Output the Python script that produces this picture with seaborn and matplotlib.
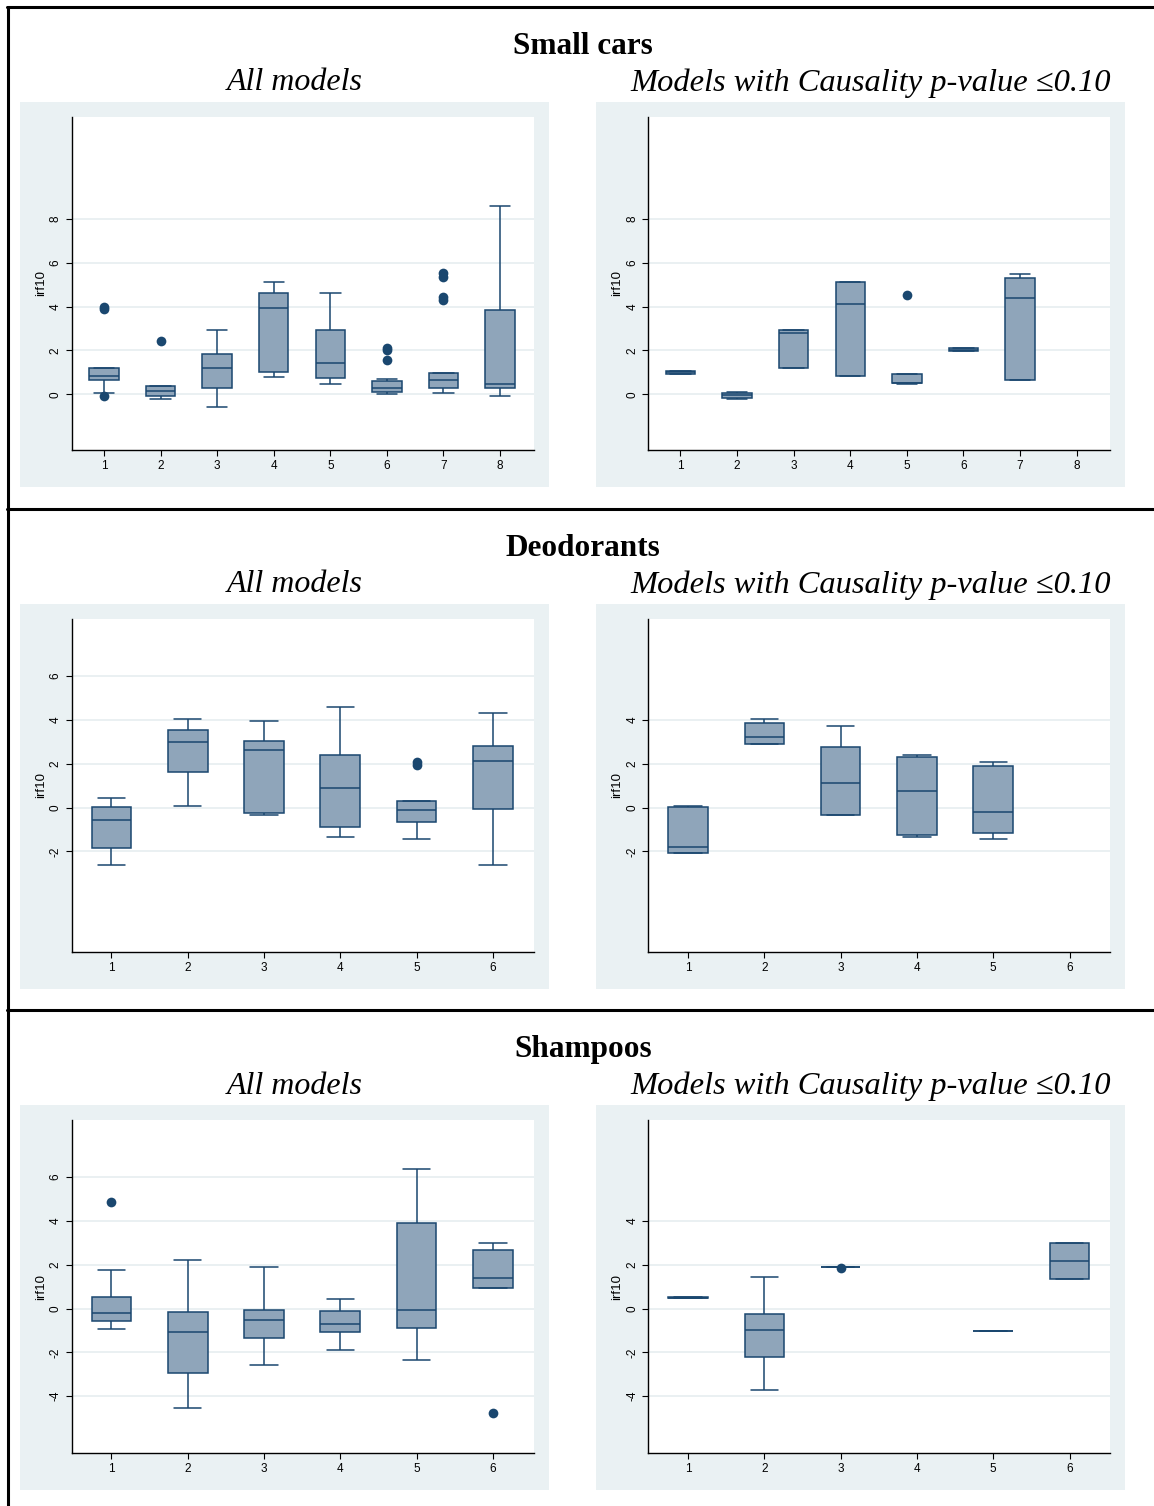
import numpy as np
import pandas as pd
import matplotlib
matplotlib.use("Agg")
import matplotlib.pyplot as plt
from matplotlib.lines import Line2D
from matplotlib.patches import Rectangle
import seaborn as sns

# ---------------- data ----------------
# each box: (lower whisker, q1, median, q3, upper whisker); None = empty group
cars_groups = ["1", "2", "3", "4", "5", "6", "7", "8"]
cars_all_box = [(0.08, 0.65, 0.82, 1.18, 1.20), (-0.20, -0.08, 0.17, 0.39, 0.40),
                (-0.58, 0.30, 1.18, 1.82, 2.91), (0.80, 1.03, 3.92, 4.63, 5.14),
                (0.49, 0.73, 1.41, 2.91, 4.63), (0.02, 0.09, 0.29, 0.59, 0.71),
                (0.06, 0.30, 0.65, 0.96, 0.98), (-0.09, 0.30, 0.46, 3.85, 8.57)]
cars_all_out_grp = ["1", "1", "1", "2", "6", "6", "6", "7", "7", "7", "7"]
cars_all_out_val = [3.90, 3.98, -0.09, 2.44, 2.09, 2.02, 1.55, 5.51, 5.36, 4.45, 4.32]

cars_caus_box = [(0.93, 0.93, 1.00, 1.08, 1.08), (-0.21, -0.15, -0.02, 0.08, 0.10),
                 (1.21, 1.21, 2.78, 2.91, 2.91), (0.82, 0.82, 4.10, 5.10, 5.10),
                 (0.46, 0.50, 0.53, 0.93, 0.93), (1.97, 1.97, 2.03, 2.11, 2.11),
                 (0.67, 0.67, 4.40, 5.31, 5.48), None]
cars_caus_out_grp = ["5"]
cars_caus_out_val = [4.52]

deo_groups = ["1", "2", "3", "4", "5", "6"]
deo_all_box = [(-2.62, -1.85, -0.59, 0.03, 0.44), (0.05, 1.61, 2.98, 3.53, 4.06),
               (-0.32, -0.24, 2.61, 3.03, 3.95), (-1.35, -0.89, 0.91, 2.41, 4.59),
               (-1.44, -0.64, -0.11, 0.30, 0.30), (-2.62, -0.05, 2.12, 2.82, 4.33)]
deo_all_out_grp = ["5", "5"]
deo_all_out_val = [2.08, 1.94]

deo_caus_box = [(-2.09, -2.09, -1.82, 0.03, 0.06), (2.89, 2.89, 3.21, 3.85, 4.06),
                (-0.35, -0.32, 1.12, 2.77, 3.73), (-1.36, -1.27, 0.74, 2.29, 2.41),
                (-1.44, -1.15, -0.20, 1.91, 2.09), None]
deo_caus_out_grp = []
deo_caus_out_val = []

sha_groups = ["1", "2", "3", "4", "5", "6"]
sha_all_box = [(-0.95, -0.55, -0.21, 0.52, 1.77), (-4.56, -2.92, -1.06, -0.17, 2.20),
               (-2.56, -1.36, -0.53, -0.06, 1.88), (-1.91, -1.09, -0.70, -0.11, 0.44),
               (-2.35, -0.89, -0.06, 3.89, 6.38), (0.92, 0.92, 1.39, 2.67, 3.00)]
sha_all_out_grp = ["1", "6"]
sha_all_out_val = [4.88, -4.76]

sha_caus_box = [(0.46, 0.46, 0.50, 0.54, 0.54), (-3.70, -2.20, -0.97, -0.27, 1.44),
                (1.88, 1.88, 1.88, 1.88, 1.88), None,
                (-1.02, -1.02, -1.02, -1.02, -1.02), (1.33, 1.33, 2.18, 2.98, 2.98)]
sha_caus_out_grp = ["3"]
sha_caus_out_val = [1.86]

row_titles = ["Small cars", "Deodorants", "Shampoos"]
col_titles = ["All models", "Models with Causality p-value \u22640.10"]
y_label = "irf10"

# ---------------- style ----------------
W, H = 1154, 1506
DPI = 100
NAVY = "#1A476F"
FILL = "#8FA5BA"
BG = "#EAF1F3"
GRID = "#E6EEF0"

sns.set_theme(style="white")
plt.rcParams["font.family"] = ["Liberation Sans", "DejaVu Sans"]
plt.rcParams.update({"text.color": "black", "axes.labelcolor": "black",
                     "xtick.color": "black", "ytick.color": "black"})

fig = plt.figure(figsize=(W / DPI, H / DPI), dpi=DPI, facecolor="white")


def fbox(x0, y0, x1, y1):
    return [x0 / W, 1 - y1 / H, (x1 - x0) / W, (y1 - y0) / H]


def box_frame(groups, boxes):
    g, v = [], []
    for name, b in zip(groups, boxes):
        if b is None:
            continue
        for val in b:
            g.append(name)
            v.append(val)
    return pd.DataFrame({"group": g, "irf10": v})


panels = [
    # row, col, groups, boxes, out_grp, out_val, yticks, ylim, xlim
    (0, 0, cars_groups, cars_all_box, cars_all_out_grp, cars_all_out_val, [0, 2, 4, 6, 8], (-2.54, 12.64), (-0.575, 7.6)),
    (0, 1, cars_groups, cars_caus_box, cars_caus_out_grp, cars_caus_out_val, [0, 2, 4, 6, 8], (-2.54, 12.64), (-0.573, 7.59)),
    (1, 0, deo_groups, deo_all_box, deo_all_out_grp, deo_all_out_val, [-2, 0, 2, 4, 6], (-6.59, 8.6), (-0.524, 5.54)),
    (1, 1, deo_groups, deo_caus_box, deo_caus_out_grp, deo_caus_out_val, [-2, 0, 2, 4], (-6.59, 8.6), (-0.525, 5.53)),
    (2, 0, sha_groups, sha_all_box, sha_all_out_grp, sha_all_out_val, [-4, -2, 0, 2, 4, 6], (-6.59, 8.6), (-0.524, 5.54)),
    (2, 1, sha_groups, sha_caus_box, sha_caus_out_grp, sha_caus_out_val, [-4, -2, 0, 2, 4], (-6.59, 8.6), (-0.525, 5.53)),
]

row_bg_top = [102, 604, 1105]
row_title_y = [46, 548, 1049]
row_sub_y = [83, 585, 1086]
col_bg_x = [(20, 549), (596, 1125)]
col_plot_x = [(71.5, 534), (648, 1110)]
col_sub_x = [295, 871]
col_sub_size = [23, 23.4]

for r in range(3):
    fig.text(583 / W, 1 - row_title_y[r] / H, row_titles[r], ha="center", va="center",
             family=["Liberation Serif", "DejaVu Serif"], weight="bold", fontsize=22.5,
             color="black")
    for c in range(2):
        fig.text(col_sub_x[c] / W, 1 - row_sub_y[r] / H, col_titles[c], ha="center", va="center",
                 family=["Liberation Serif", "DejaVu Serif"], style="italic",
                 fontsize=col_sub_size[c], color="black")
        x0, x1 = col_bg_x[c]
        y0 = row_bg_top[r]
        fig.add_artist(Rectangle((x0 / W, 1 - (y0 + 385) / H), (x1 - x0) / W, 385 / H,
                                 transform=fig.transFigure, facecolor=BG, edgecolor="none", zorder=0))

for (r, c, groups, boxes, og, ov, yticks, ylim, xlim) in panels:
    px0, px1 = col_plot_x[c]
    py0 = row_bg_top[r] + 15
    py1 = row_bg_top[r] + 348
    ax = fig.add_axes(fbox(px0, py0, px1, py1))
    ax.set_facecolor("white")
    ax.set_zorder(2)
    df = box_frame(groups, boxes)
    sns.boxplot(data=df, x="group", y="irf10", order=groups, ax=ax, whis=(0, 100),
                width=0.52, color=FILL, linecolor=NAVY, linewidth=1.1, saturation=1,
                fliersize=0, capwidths=0.36)
    if len(ov):
        odf = pd.DataFrame({"group": og, "irf10": ov})
        sns.stripplot(data=odf, x="group", y="irf10", order=groups, ax=ax, jitter=False,
                      color=NAVY, size=7, linewidth=0)
    ax.set_xlim(*xlim)
    ax.set_ylim(*ylim)
    ax.set_yticks(yticks)
    ax.set_yticklabels([str(t) for t in yticks], rotation=90, va="center")
    ax.set_xlabel("")
    ax.set_ylabel(y_label, fontsize=9.5, labelpad=2)
    for t in yticks:
        ax.axhline(t, color=GRID, lw=1.2, zorder=0)
    ax.tick_params(axis="both", which="both", direction="out", length=4, width=0.8,
                   color="black", labelsize=8.5, pad=3, left=True, bottom=True)
    for s in ["top", "right"]:
        ax.spines[s].set_visible(False)
    for s in ["left", "bottom"]:
        ax.spines[s].set_visible(True)
        ax.spines[s].set_color("black")
        ax.spines[s].set_linewidth(1.0)
    ax.grid(False)

# frame lines of the figure panel
lw = 2.2
fig.add_artist(Line2D([8 / W, 8 / W], [1 - 7 / H, 0], color="black", lw=lw))
for yy in [7, 509, 1010]:
    fig.add_artist(Line2D([7 / W, 1], [1 - yy / H, 1 - yy / H], color="black", lw=lw))

fig.savefig("out.png", dpi=DPI, facecolor="white")
